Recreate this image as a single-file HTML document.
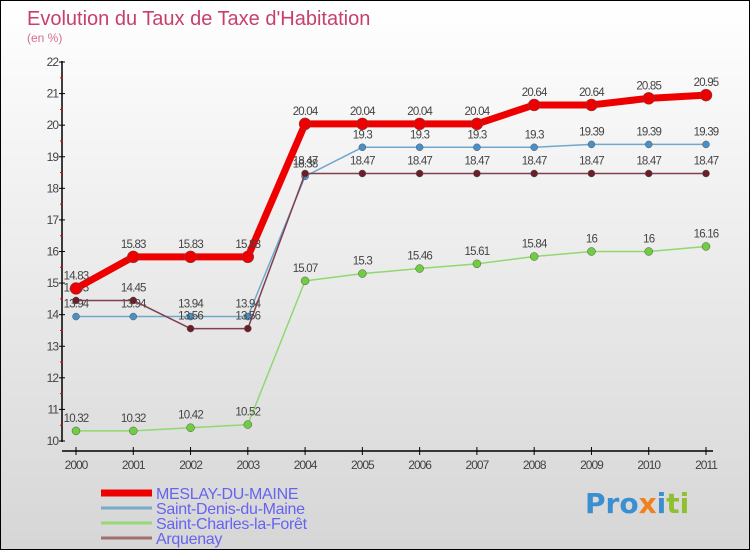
<!DOCTYPE html>
<html><head><meta charset="utf-8"><style>
body{margin:0}
#c{width:750px;height:550px;position:relative;overflow:hidden;box-sizing:border-box;border:1px solid #000;background:linear-gradient(#ffffff,#d6d6d6);font-family:"Liberation Sans",sans-serif}
</style></head><body>
<div id="c">
<svg id="s" width="750" height="550" style="position:absolute;left:0;top:0;font-family:'Liberation Sans',sans-serif">
<text x="26" y="24" font-size="20" fill="#c8406a">Evolution du Taux de Taxe d'Habitation</text>
<text x="26" y="41" font-size="12" fill="#d07090">(en %)</text>
</svg>
<div style="position:absolute;left:584px;top:486px;font:bold 28px 'DejaVu Sans',sans-serif;letter-spacing:0px"><span style="color:#3a8fd0">Pro</span><span style="color:#f08020">x</span><span style="color:#3a8fd0">i</span><span style="color:#90c030">ti</span></div>
</div>
<script>
const years=[2000,2001,2002,2003,2004,2005,2006,2007,2008,2009,2010,2011];
const meslay=[14.83,15.83,15.83,15.83,20.04,20.04,20.04,20.04,20.64,20.64,20.85,20.95];
const denis=[13.94,13.94,13.94,13.94,18.38,19.3,19.3,19.3,19.3,19.39,19.39,19.39];
const charles=[10.32,10.32,10.42,10.52,15.07,15.3,15.46,15.61,15.84,16,16,16.16];
const arquenay=[14.45,14.45,13.56,13.56,18.47,18.47,18.47,18.47,18.47,18.47,18.47,18.47];
const yTicks=[10,11,12,13,14,15,16,17,18,19,20,21,22];
const NS="http://www.w3.org/2000/svg";
const s=document.getElementById('s');
const X=i=>75+i*(630/11);
const Y=v=>440-(v-10)*(379/12);
function el(t,a,p){const e=document.createElementNS(NS,t);for(const k in a)e.setAttribute(k,a[k]);(p||s).appendChild(e);return e;}
let ax=el('line',{x1:61,y1:60,x2:61,y2:441,stroke:'#000','stroke-width':1.5});


let xa=el('line',{x1:61,y1:450,x2:712,y2:450,stroke:'#000','stroke-width':1.5});


yTicks.forEach((t,i)=>{
  el('line',{x1:58,y1:Y(t),x2:64,y2:Y(t),stroke:'#000'});
  if(i<yTicks.length-1)el('line',{x1:59,y1:Y(t+0.5),x2:62,y2:Y(t+0.5),stroke:'#e00'});
  const tx=el('text',{x:57,y:Y(t)+4,'font-size':12,fill:'#444','text-anchor':'end','letter-spacing':'-1'});
  tx.textContent=t;
  
  
});
years.forEach((y,i)=>{
  el('line',{x1:X(i),y1:446,x2:X(i),y2:454,stroke:'#000'});
  const tx=el('text',{x:X(i),y:468,'font-size':12,fill:'#444','text-anchor':'middle','letter-spacing':'-1'});
  tx.textContent=y;
  
  
});
function series(data,color,w,r,dot,name){
  const g=el('g',{});
  
  
  el('polyline',{points:data.map((v,i)=>X(i)+','+Y(v)).join(' '),fill:'none',stroke:color,'stroke-width':w,'stroke-linejoin':'round'},g);
  data.forEach((v,i)=>{
    const c=el('circle',{cx:X(i),cy:Y(v),r:r,fill:dot,stroke:'#555','stroke-width':0.5},g);
    
    
    const t=el('text',{x:X(i),y:Y(v)-9,'font-size':11.5,fill:'#444','text-anchor':'middle','letter-spacing':'-0.8'},g);
    t.textContent=String(v);
    
    
  });
}
series(charles,'#90d870',1.5,4,'#70cc40','saint-charles-series');
series(denis,'#70a8cc',1.5,3.5,'#4a90c8','saint-denis-series');
series(arquenay,'#804050',1.5,3.5,'#6a1e28','arquenay-series');
series(meslay,'#ee0000',7,6,'#ee0000','meslay-series');
const legNames=['MESLAY-DU-MAINE','Saint-Denis-du-Maine','Saint-Charles-la-Forêt','Arquenay'];
const legCols=['#ee0000','#78aacc','#98d878','#a07070'];
const legW=[7,3,3,3];
legNames.forEach((n,i)=>{
  const y=492+i*15;
  const l=el('line',{x1:100,y1:y,x2:151,y2:y,stroke:legCols[i],'stroke-width':legW[i]});
  
  
  const t=el('text',{x:155,y:y+6,'font-size':16,fill:'#6464f0','letter-spacing':'-0.3'});
  t.textContent=n;
  
  
});
</script>
</body></html>
